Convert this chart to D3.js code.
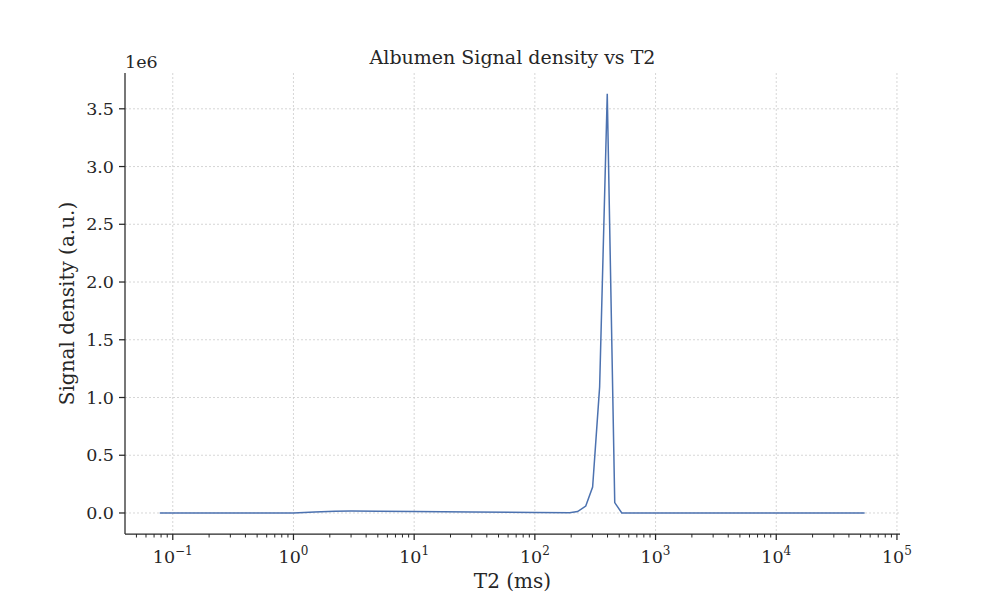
<!DOCTYPE html>
<html><head><meta charset="utf-8">
<script src="https://cdn.jsdelivr.net/npm/d3@7"></script>
<style>body{margin:0;background:#fff}text{font-family:"DejaVu Serif",serif;fill:#262626}</style>
</head><body><svg id="chart" width="1000" height="600"></svg>
<script>
const t2 = [0.078, 0.3, 1, 1.5, 2.2, 3, 5, 10, 30, 100, 194, 226, 264, 301, 344, 398, 459, 525, 1000, 10000, 54000];
const signal = [0, 0, 0, 8000, 15000, 17000, 16000, 13000, 9000, 5000, 3000, 12000, 60000, 225000, 1090000, 3630000, 90000, 0, 0, 0, 0];
const xTicks = [0.1, 1, 10, 100, 1000, 10000, 100000];
const xTickLabels = ["-1", "0", "1", "2", "3", "4", "5"];
const yTicks = [0, 0.5e6, 1e6, 1.5e6, 2e6, 2.5e6, 3e6, 3.5e6];

const margin = {left: 125, right: 100, top: 73, bottom: 66},
      width = 1000 - margin.left - margin.right,
      height = 600 - margin.top - margin.bottom;
const svg = d3.select("#chart").append("g")
  .attr("transform", `translate(${margin.left},${margin.top})`);

const x = d3.scaleLog().domain([0.0402, 106000]).range([0, width]);
const y = d3.scaleLinear().domain([-0.182e6, 3.81e6]).range([height, 0]);

// grid
svg.append("g").selectAll("line").data(xTicks).join("line")
  .attr("x1", d => x(d)).attr("x2", d => x(d)).attr("y1", 0).attr("y2", height)
  .attr("stroke", "#ccc").attr("stroke-dasharray", "2,2").attr("stroke-width", 0.8);
svg.append("g").selectAll("line").data(yTicks).join("line")
  .attr("y1", d => y(d)).attr("y2", d => y(d)).attr("x1", 0).attr("x2", width)
  .attr("stroke", "#ccc").attr("stroke-dasharray", "2,2").attr("stroke-width", 0.8);

// x axis with minor ticks
const minor = [];
for (let e = -2; e < 5; e++) for (let m = 2; m < 10; m++) {
  const v = m * Math.pow(10, e);
  if (v > x.domain()[0] && v < x.domain()[1]) minor.push(v);
}
const xa = svg.append("g").attr("transform", `translate(0,${height})`);
xa.append("line").attr("x1", 0).attr("x2", width).attr("stroke", "#262626").attr("stroke-width", 1.25);
xa.selectAll(".minor").data(minor).join("line")
  .attr("x1", d => x(d)).attr("x2", d => x(d)).attr("y1", 0).attr("y2", 3.5)
  .attr("stroke", "#262626").attr("stroke-width", 1);
xa.selectAll(".major").data(xTicks).join("line")
  .attr("x1", d => x(d)).attr("x2", d => x(d)).attr("y1", 0).attr("y2", 6)
  .attr("stroke", "#262626").attr("stroke-width", 1.25);
const lbl = xa.selectAll(".lbl").data(xTicks).join("text")
  .attr("x", d => x(d)).attr("y", 29).attr("text-anchor", "middle").style("font-size", "17.5px");
lbl.append("tspan").text("10");
lbl.append("tspan").attr("dy", -8).style("font-size", "12px").text((d, i) => xTickLabels[i].replace("-", "\u2212"));

// y axis
const ya = svg.append("g");
ya.append("line").attr("y1", 0).attr("y2", height).attr("stroke", "#262626").attr("stroke-width", 1.25);
ya.selectAll(".t").data(yTicks).join("line")
  .attr("x1", -6).attr("x2", 0).attr("y1", d => y(d)).attr("y2", d => y(d))
  .attr("stroke", "#262626").attr("stroke-width", 1.25);
ya.selectAll(".l").data(yTicks).join("text")
  .attr("x", -11).attr("y", d => y(d)).attr("dy", "0.35em").attr("text-anchor", "end")
  .style("font-size", "17.5px").text(d => (d / 1e6).toFixed(1));
svg.append("text").attr("x", 0).attr("y", -5).style("font-size", "17.5px").text("1e6");

// line
svg.append("path").datum(t2.map((d, i) => [d, signal[i]]))
  .attr("fill", "none").attr("stroke", "#4c72b0").attr("stroke-width", 1.5)
  .attr("d", d3.line().x(d => x(d[0])).y(d => y(d[1])));

// labels
svg.append("text").attr("x", width / 2).attr("y", -9).attr("text-anchor", "middle")
  .style("font-size", "19px").text("Albumen Signal density vs T2");
svg.append("text").attr("x", width / 2).attr("y", height + 54).attr("text-anchor", "middle")
  .style("font-size", "20px").text("T2 (ms)");
svg.append("text").attr("transform", `translate(-51,${height / 2}) rotate(-90)`)
  .attr("text-anchor", "middle").style("font-size", "20px").text("Signal density (a.u.)");
</script></body></html>
